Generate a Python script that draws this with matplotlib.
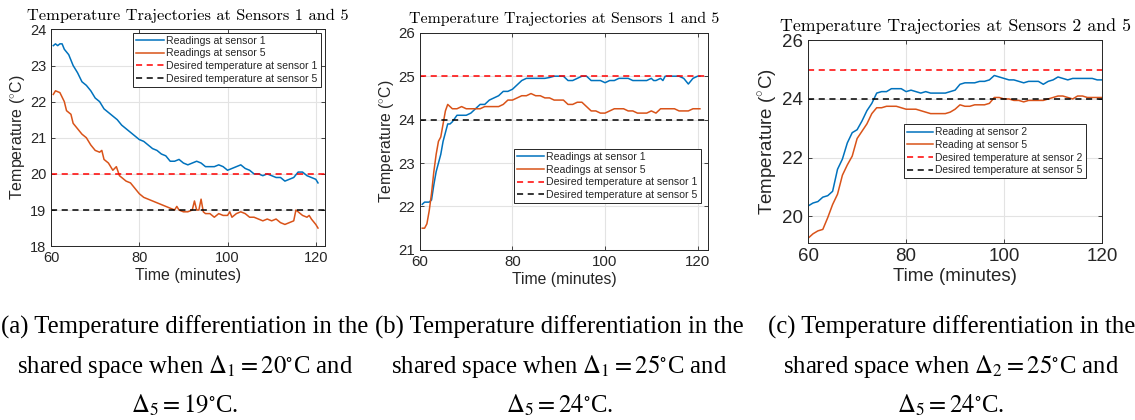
import matplotlib
matplotlib.use("Agg")
import matplotlib.pyplot as plt

# ---- data ----
# panel (a)
t_a1 = [60.5, 61, 61.5, 62, 62.5, 63, 64, 65, 66, 67, 68, 69, 70, 71, 72, 73, 74, 75, 76, 77,
        78, 79, 80, 81, 82, 83, 84, 85, 86, 87, 88, 89, 90, 91, 92, 93, 94, 95, 96, 97,
        98, 99, 100, 101, 102, 103, 104, 105, 106, 107, 108, 109, 110, 111, 112, 113, 114,
        115, 116, 117, 118, 119, 120, 120.5]
y_a1 = [23.55, 23.6, 23.55, 23.6, 23.6, 23.45, 23.3, 23.0, 22.8, 22.55, 22.45, 22.3, 22.1, 22.0,
        21.8, 21.7, 21.6, 21.5, 21.35, 21.25, 21.15, 21.05, 20.95, 20.9, 20.8, 20.7, 20.65,
        20.55, 20.5, 20.35, 20.35, 20.4, 20.3, 20.25, 20.3, 20.35, 20.3, 20.2, 20.2, 20.2,
        20.25, 20.2, 20.1, 20.15, 20.2, 20.25, 20.15, 20.1, 20.0, 20.0, 19.95, 20.0, 19.95,
        19.9, 19.9, 19.8, 19.85, 19.9, 20.05, 20.05, 19.95, 19.9, 19.85, 19.75]
t_a5 = [60.5, 61, 62, 63, 63.5, 64.5, 65, 66, 67, 68, 69, 70, 71, 71.5, 72, 73, 74, 74.8, 75.5,
        76, 77, 78, 79, 80, 81, 82, 83, 84, 85, 86, 87, 88, 88.5, 89, 90, 91, 92, 92.5, 93,
        93.5, 94, 94.5, 95, 96, 97, 98, 99, 100, 100.5, 101, 102, 103, 104, 105, 106, 107,
        108, 109, 110, 111, 112, 113, 114, 115, 115.5, 116, 117, 118, 118.5, 119, 120, 120.5]
y_a5 = [22.2, 22.3, 22.25, 22.0, 21.75, 21.65, 21.4, 21.25, 21.1, 21.0, 20.8, 20.65, 20.6, 20.65,
        20.4, 20.3, 20.1, 20.2, 19.95, 19.9, 19.8, 19.75, 19.6, 19.45, 19.35, 19.3, 19.25,
        19.2, 19.15, 19.1, 19.05, 19.0, 19.1, 19.0, 18.95, 18.95, 19.0, 19.25, 19.0, 19.0,
        19.3, 18.95, 18.9, 18.9, 18.8, 18.9, 18.85, 18.85, 18.95, 18.8, 18.9, 18.95, 18.9,
        18.8, 18.8, 18.75, 18.7, 18.75, 18.7, 18.75, 18.65, 18.6, 18.65, 18.7, 19.0, 18.95,
        18.85, 18.8, 18.85, 18.75, 18.6, 18.5]

# panel (b)
t_b1 = [60.5, 61, 62, 62.5, 63, 63.5, 64, 64.5, 65, 65.5, 66, 66.5, 67, 68, 69, 70, 71, 72, 73,
        74, 75, 76, 77, 78, 79, 80, 81, 82, 83, 84, 85, 86, 87, 88, 89, 90, 91, 92, 93, 94,
        95, 96, 97, 98, 99, 100, 101, 102, 103, 104, 105, 106, 107, 108, 109, 110, 110.5,
        111, 112, 112.5, 113, 114, 115, 116, 117, 118, 119, 120, 120.5]
y_b1 = [22.05, 22.1, 22.1, 22.15, 22.5, 22.8, 23.0, 23.2, 23.5, 23.7, 23.9, 23.9, 23.95, 24.1,
        24.1, 24.1, 24.15, 24.25, 24.35, 24.35, 24.45, 24.5, 24.55, 24.65, 24.65, 24.7, 24.8,
        24.9, 24.95, 24.95, 24.95, 24.95, 24.95, 24.97, 25.0, 25.0, 25.0, 24.9, 24.9, 24.95,
        25.0, 25.0, 24.9, 24.9, 24.9, 24.85, 24.9, 24.9, 24.95, 24.95, 24.95, 24.9, 24.9,
        24.9, 24.9, 24.95, 24.9, 24.9, 24.95, 24.9, 25.0, 25.0, 25.0, 25.0, 24.95, 24.82,
        24.95, 25.0, 25.0]
t_b5 = [60.5, 61, 61.5, 62, 62.5, 63, 63.5, 64, 64.5, 65, 65.5, 66, 66.5, 67, 68, 69, 70, 71, 72,
        73, 74, 75, 76, 77, 78, 79, 80, 81, 82, 83, 84, 85, 86, 87, 88, 89, 90, 91, 92, 93,
        94, 95, 96, 97, 98, 99, 100, 101, 102, 103, 104, 105, 106, 107, 108, 109, 110, 111,
        112, 113, 114, 115, 116, 117, 118, 119, 120, 120.5]
y_b5 = [21.5, 21.5, 21.6, 21.9, 22.3, 22.8, 23.2, 23.5, 23.6, 23.9, 24.2, 24.35, 24.3, 24.25,
        24.25, 24.3, 24.25, 24.25, 24.25, 24.25, 24.3, 24.3, 24.3, 24.3, 24.35, 24.45, 24.45,
        24.5, 24.55, 24.55, 24.6, 24.55, 24.55, 24.5, 24.5, 24.45, 24.45, 24.45, 24.35, 24.35,
        24.4, 24.4, 24.3, 24.2, 24.2, 24.15, 24.15, 24.2, 24.25, 24.25, 24.25, 24.2, 24.2,
        24.15, 24.15, 24.15, 24.2, 24.15, 24.25, 24.25, 24.25, 24.25, 24.2, 24.2, 24.2, 24.25,
        24.25, 24.25]

# panel (c)
t_c = list(range(60, 121))
y_c2 = [20.35, 20.45, 20.5, 20.65, 20.7, 20.85, 21.6, 21.95, 22.5, 22.85, 22.95, 23.25, 23.6,
        23.85, 24.2, 24.25, 24.25, 24.35, 24.35, 24.35, 24.25, 24.3, 24.25, 24.2, 24.25, 24.2,
        24.2, 24.2, 24.2, 24.25, 24.3, 24.5, 24.55, 24.55, 24.55, 24.6, 24.6, 24.65, 24.8,
        24.75, 24.7, 24.65, 24.65, 24.6, 24.55, 24.6, 24.6, 24.6, 24.5, 24.6, 24.65, 24.75,
        24.7, 24.65, 24.7, 24.7, 24.7, 24.7, 24.7, 24.65, 24.65]
y_c5 = [19.25, 19.4, 19.5, 19.55, 19.95, 20.4, 20.75, 21.4, 21.75, 22.05, 22.65, 22.9, 23.15,
        23.5, 23.7, 23.7, 23.75, 23.75, 23.75, 23.7, 23.65, 23.65, 23.65, 23.6, 23.55, 23.5,
        23.5, 23.5, 23.5, 23.55, 23.65, 23.8, 23.75, 23.75, 23.8, 23.8, 23.8, 23.85, 24.05,
        24.05, 24.0, 24.0, 23.95, 23.95, 23.9, 23.95, 23.95, 23.95, 23.95, 24.0, 24.05, 24.1,
        24.1, 24.05, 24.0, 24.1, 24.1, 24.05, 24.05, 24.05, 24.05]

titles = ["Temperature Trajectories at Sensors 1 and 5",
          "Temperature Trajectories at Sensors 1 and 5",
          "Temperature Trajectories at Sensors 2 and 5"]
desired = [(20, 19), (25, 24), (25, 24)]
labels_a = ["Readings at sensor 1", "Readings at sensor 5",
            "Desired temperature at sensor 1", "Desired temperature at sensor 5"]
labels_c = ["Reading at sensor 2", "Reading at sensor 5",
            "Desired temperature at sensor 2", "Desired temperature at sensor 5"]
captions = [["(a) Temperature differentiation in the",
             r"shared space when $\Delta_1 = 20^{\circ}$C and",
             r"$\Delta_5 = 19^{\circ}$C."],
            ["(b) Temperature differentiation in the",
             r"shared space when $\Delta_1 = 25^{\circ}$C and",
             r"$\Delta_5 = 24^{\circ}$C."],
            ["(c) Temperature differentiation in the",
             r"shared space when $\Delta_2 = 25^{\circ}$C and",
             r"$\Delta_5 = 24^{\circ}$C."]]

BLUE = "#0072BD"
ORANGE = "#D95319"
DARK = "#262626"

plt.rcParams["font.family"] = ["Liberation Sans", "DejaVu Sans"]
plt.rcParams["mathtext.fontset"] = "custom"
plt.rcParams["mathtext.rm"] = "Liberation Sans"

fig = plt.figure(figsize=(11.35, 4.2), dpi=100)

panels = [
    dict(pos=[0.045, 0.414, 0.241, 0.516], s1=(t_a1, y_a1), s5=(t_a5, y_a5), xlim=(60, 122),
         ylim=(18, 24), yt=range(18, 25), labels=labels_a, tick=10.5, lab=11.5, tfs=11.8,
         leg=dict(loc="upper right", bbox_to_anchor=(0.985, 0.985)), cx=0.163),
    dict(pos=[0.370, 0.405, 0.254, 0.517], s1=(t_b1, y_b1), s5=(t_b5, y_b5), xlim=(60, 122.3),
         ylim=(21, 26), yt=range(21, 27), labels=labels_a, tick=10.8, lab=11.3, tfs=11.4,
         leg=dict(loc="lower right", bbox_to_anchor=(0.975, 0.215)), cx=0.493),
    dict(pos=[0.712, 0.421, 0.259, 0.483], s1=(t_c, y_c2), s5=(t_c, y_c5), xlim=(60, 120),
         ylim=(19.08, 26), yt=[20, 22, 24, 26], labels=labels_c, tick=13.5, lab=13.5, tfs=12.9,
         leg=dict(loc="lower right", bbox_to_anchor=(0.945, 0.32)), cx=0.838),
]

for i, p in enumerate(panels):
    ax = fig.add_axes(p["pos"])
    ax.plot(*p["s1"], color=BLUE, lw=1.1, label=p["labels"][0])
    ax.plot(*p["s5"], color=ORANGE, lw=1.1, label=p["labels"][1])
    ax.axhline(desired[i][0], color="red", ls=(0, (4, 3)), lw=1.1, label=p["labels"][2])
    ax.axhline(desired[i][1], color="black", ls=(0, (4, 3)), lw=1.1, label=p["labels"][3])
    ax.set_xlim(*p["xlim"])
    ax.set_ylim(*p["ylim"])
    ax.set_xticks([60, 80, 100, 120])
    ax.set_yticks(list(p["yt"]))
    ax.grid(True, color="#e3e3e3", lw=0.8)
    ax.set_axisbelow(True)
    ax.tick_params(direction="in", top=True, right=True, length=3, width=0.6,
                   colors=DARK, labelsize=p["tick"])
    for sp in ax.spines.values():
        sp.set_color(DARK)
        sp.set_linewidth(0.7)
    ax.set_xlabel("Time (minutes)", fontsize=p["lab"], color=DARK, labelpad=2)
    ax.set_ylabel(r"Temperature ($^{\circ}$C)", fontsize=p["lab"], color=DARK, labelpad=2)
    ax.set_title(titles[i], family="cmr10", fontsize=p["tfs"], pad=7)
    leg = ax.legend(fontsize=7.6 if i < 2 else 7.4, handlelength=2.6, handletextpad=0.2,
                    labelspacing=0.25, borderpad=0.3, fancybox=False, framealpha=1,
                    edgecolor=DARK, borderaxespad=0, **p["leg"])
    leg.get_frame().set_linewidth(0.7)
    for txt in leg.get_texts():
        txt.set_color(DARK)

    for j, line in enumerate(captions[i]):
        fig.text(p["cx"], 1 - (327 + 39 * j) / 420, line, ha="center", va="center",
                 family="Liberation Serif", math_fontfamily="stix", fontsize=17.8)

fig.savefig("out.png", dpi=100)
